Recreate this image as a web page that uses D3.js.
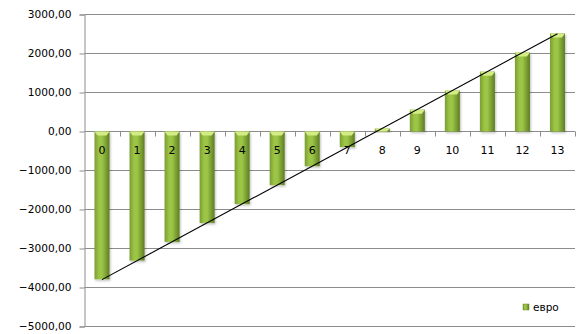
<!DOCTYPE html>
<html><head><meta charset="utf-8">
<script src="https://cdn.jsdelivr.net/npm/d3@7"></script>
<style>body{margin:0;background:#fff}svg{display:block}</style>
</head><body>
<svg id="c" width="579" height="334"></svg>
<script>
const categories = ["0","1","2","3","4","5","6","7","8","9","10","11","12","13"];
const values = [-3790,-3310,-2830,-2345,-1860,-1375,-890,-400,75,560,1050,1535,2025,2515];
const yTicks = [3000,2000,1000,0,-1000,-2000,-3000,-4000,-5000];
const seriesName = "евро";

const svg = d3.select("#c");
const left = 84.5, right = 575;
const x = d3.scaleBand().domain(categories).range([left, right]).paddingInner(0).paddingOuter(0);
const y = d3.scaleLinear().domain([-5000, 3000]).range([326.5, 14.5]);

const defs = svg.append("defs");
const g1 = defs.append("linearGradient").attr("id","bar").attr("x1","0").attr("x2","1").attr("y1","0").attr("y2","0");
g1.append("stop").attr("offset","0").attr("stop-color","#7b9c34");
g1.append("stop").attr("offset","0.3").attr("stop-color","#9cc545");
g1.append("stop").attr("offset","0.5").attr("stop-color","#9dc647");
g1.append("stop").attr("offset","1").attr("stop-color","#5e7d22");
const f = defs.append("filter").attr("id","sh").attr("x","-20%").attr("y","-20%").attr("width","150%").attr("height","150%");
f.append("feDropShadow").attr("dx",1).attr("dy",1.5).attr("stdDeviation",1).attr("flood-color","#000").attr("flood-opacity",0.25);

// gridlines
svg.append("g").selectAll("line").data(yTicks).join("line")
  .attr("x1", left).attr("x2", right)
  .attr("y1", d => y(d)).attr("y2", d => y(d))
  .attr("stroke", "#8c8c8c").attr("stroke-width", 1);

// y axis
const yAxis = d3.axisLeft(y).tickValues(yTicks).tickSize(5).tickPadding(8)
  .tickFormat(d => d3.format(".2f")(d).replace(".", ","));
const ya = svg.append("g").attr("transform", `translate(${left},0)`).call(yAxis);
ya.select(".domain").attr("stroke", "#8c8c8c");
ya.selectAll(".tick line").attr("stroke", "#8c8c8c");
ya.selectAll("text").attr("font-family", "DejaVu Sans, Verdana, sans-serif").attr("font-size", "10.6px").attr("fill", "#000");

// x ticks at band boundaries along zero line
const bounds = categories.map(c => x(c)).concat([right]);
svg.append("g").selectAll("line").data(bounds.slice(1)).join("line")
  .attr("x1", d => Math.round(d) + 0.5).attr("x2", d => Math.round(d) + 0.5)
  .attr("y1", y(0)).attr("y2", y(0) + 5)
  .attr("stroke", "#8c8c8c");

// bars
const bw = 15;
const bars = svg.append("g");
categories.forEach((c, i) => {
  const v = values[i];
  const cx = x(c) + x.bandwidth() / 2;
  const y0 = Math.min(y(0), y(v)), h = Math.abs(y(v) - y(0));
  const x0 = cx - bw / 2;
  bars.append("rect").attr("x", x0).attr("y", y0).attr("width", bw).attr("height", h)
    .attr("fill", "url(#bar)").attr("filter", "url(#sh)");
  const bh = Math.min(4, h);
  bars.append("path")
    .attr("d", `M${x0},${y0} L${x0 + bw},${y0} L${x0 + bw - 3},${y0 + bh} L${x0 + 3},${y0 + bh} Z`)
    .attr("fill", "#d3ec84");
});

// x labels
svg.append("g").selectAll("text").data(categories).join("text")
  .attr("x", d => x(d) + x.bandwidth() / 2).attr("y", y(0) + 22)
  .attr("text-anchor", "middle")
  .attr("font-family", "DejaVu Sans, Verdana, sans-serif").attr("font-size", "11px").attr("fill", "#000")
  .text(d => d);

// linear trend line
const xs = values.map((_, i) => i);
const mx = d3.mean(xs), my = d3.mean(values);
const slope = d3.sum(xs.map((xi, i) => (xi - mx) * (values[i] - my))) / d3.sum(xs.map(xi => (xi - mx) ** 2));
const icpt = my - slope * mx;
const trend = [0, categories.length - 1].map(i => [x(categories[i]) + x.bandwidth() / 2, y(icpt + slope * i)]);
svg.append("path").attr("d", d3.line()(trend)).attr("stroke", "#000").attr("stroke-width", 1.1).attr("fill", "none");

// legend
svg.append("rect").attr("x", 523).attr("y", 304).attr("width", 6).attr("height", 6).attr("fill", "url(#bar)").attr("stroke","#6b8b2a").attr("stroke-width",0.5);
svg.append("text").attr("x", 533).attr("y", 311).attr("font-family", "DejaVu Sans, Verdana, sans-serif")
  .attr("font-size", "10.5px").attr("fill", "#000").text(seriesName);
</script>
</body></html>
